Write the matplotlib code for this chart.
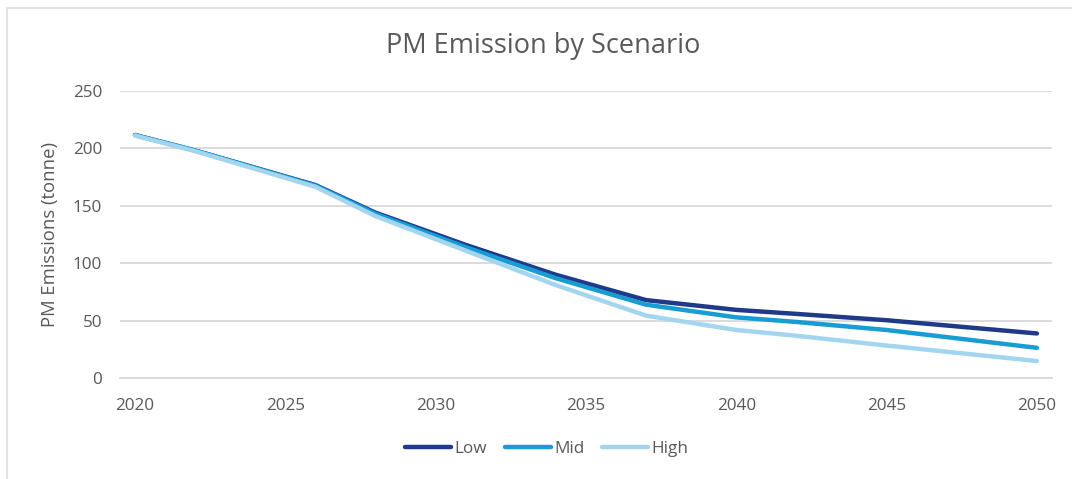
import matplotlib
matplotlib.use("Agg")
import matplotlib.pyplot as plt
from matplotlib.lines import Line2D

# PM emissions (tonne) per scenario
years = [2020, 2022, 2026, 2028, 2031, 2034, 2037, 2040, 2042, 2045, 2050]
low = [211.5, 198, 168, 144, 116, 90, 68, 59.5, 56, 50.5, 39]
mid = [211.5, 198, 167.5, 143, 114, 87, 64, 53, 49, 42, 26.5]
high = [211, 197.5, 166.5, 141, 111, 81, 54.5, 42, 37, 28.5, 15]

series_names = ["Low", "Mid", "High"]
series_colors = ["#1f3a88", "#179cd4", "#a3d6ee"]
x_ticks = [2020, 2025, 2030, 2035, 2040, 2045, 2050]
y_ticks = [0, 50, 100, 150, 200, 250]

plt.rcParams["font.family"] = ["Open Sans", "DejaVu Sans"]
text_color = "#595959"
grid_color = "#d9d9d9"

fig = plt.figure(figsize=(10.72, 4.79), dpi=100)
ax = fig.add_axes([0.1119, 0.2102, 0.8694, 0.6004])

# series drawn in order, so High ends up on top
for name, vals, col in zip(series_names, [low, mid, high], series_colors):
    ax.plot(years, vals, color=col, lw=3.2, solid_capstyle="round",
            solid_joinstyle="round", label=name)

ax.set_xlim(2019.5, 2050.5)
ax.set_ylim(0, 250)
ax.set_xticks(x_ticks)
ax.set_yticks(y_ticks)
ax.grid(axis="y", color=grid_color, lw=1.3)
ax.set_axisbelow(True)
for s in ["top", "right", "left"]:
    ax.spines[s].set_visible(False)
ax.spines["bottom"].set_color(grid_color)
ax.spines["bottom"].set_linewidth(1.3)
ax.tick_params(axis="both", length=0, colors=text_color, labelsize=12.3)
ax.tick_params(axis="y", pad=13)
ax.tick_params(axis="x", pad=14)

ax.set_ylabel("PM Emissions (tonne)", color=text_color, fontsize=13.3, labelpad=10)
fig.text(0.507, 0.905, "PM Emission by Scenario", ha="center", va="center",
         color=text_color, fontsize=19.5)

handles = [Line2D([0], [0], color=c, lw=3.2, solid_capstyle="round") for c in series_colors]
fig.legend(handles, series_names, loc="center", bbox_to_anchor=(0.51, 0.062),
           ncol=3, frameon=False, fontsize=12.3, labelcolor=text_color,
           handlelength=2.7, handletextpad=0.2, columnspacing=1.05)

# thin chart-area border along the top and left edges
fig.add_artist(Line2D([0.0065, 1.0], [0.984, 0.984], color="#e3e3e3", lw=1.5,
                      transform=fig.transFigure))
fig.add_artist(Line2D([0.0065, 0.0065], [0.0, 0.984], color="#e3e3e3", lw=1.5,
                      transform=fig.transFigure))

fig.savefig("out.png", dpi=100, facecolor="white")
